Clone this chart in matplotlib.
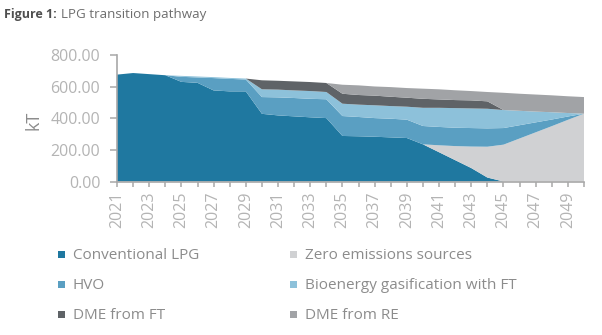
import matplotlib
matplotlib.use("Agg")
import matplotlib.pyplot as plt
from matplotlib.patches import Rectangle

# LPG supply by source, kT per year
years = list(range(2021, 2051))
conventional_lpg = [676, 686, 679, 672, 630, 624, 576, 570, 570, 428,
                    418, 412, 406, 401, 288, 286, 283, 279, 275, 235,
                    185, 135, 85, 25, 0, 0, 0, 0, 0, 0]
zero_emissions = [0, 0, 0, 0, 0, 0, 0, 0, 0, 0,
                  0, 0, 0, 0, 0, 0, 0, 0, 0, 0,
                  44, 89, 136, 195, 233, 272, 311, 350, 390, 429]
hvo = [0, 0, 0, 0, 32, 34, 78, 79, 75, 106,
       114, 116, 117, 119, 126, 122, 118, 118, 116, 116,
       116, 116, 117, 116, 105, 84, 63, 42, 21, 0]
bio_gasification_ft = [0, 0, 0, 0, 6, 6, 6, 6, 6, 49,
                       49, 48, 49, 46, 78, 78, 81, 80, 82, 115,
                       121, 124, 124, 124, 114, 91, 68, 46, 22, 0]
dme_from_ft = [0, 0, 0, 0, 0, 0, 0, 0, 0, 57,
               56, 57, 57, 57, 63, 61, 61, 59, 57, 57,
               53, 51, 51, 47, 0, 0, 0, 0, 0, 0]
dme_from_re = [0, 0, 0, 0, 0, 0, 0, 0, 0, 0,
               0, 0, 0, 0, 57, 61, 58, 61, 61, 64,
               64, 62, 59, 59, 109, 108, 108, 107, 106, 105]

series_labels = ["Conventional LPG", "Zero emissions sources", "HVO",
                 "Bioenergy gasification with FT", "DME from FT", "DME from RE"]
series_colors = ["#1f78a0", "#d0d1d3", "#5a9fc2", "#8dc1da", "#5f6367", "#a1a3a6"]
y_ticks = [0, 200, 400, 600, 800]

FONT = "Open Sans"
TICK_COLOR = "#b4b4b4"
TEXT_COLOR = "#8c8c8c"
SPINE_COLOR = "#a8a8a8"

W, H = 602, 335
fig = plt.figure(figsize=(W / 100, H / 100), dpi=100)
fig.patch.set_facecolor("white")

def fx(px):
    return px / W

def fy(py):
    return 1 - py / H

ax = fig.add_axes([fx(117), fy(181.5), fx(584) - fx(117), fy(55) - fy(181.5)])

ax.stackplot(years, conventional_lpg, zero_emissions, hvo, bio_gasification_ft,
             dme_from_ft, dme_from_re, colors=series_colors, linewidth=0)

ax.set_xlim(years[0], years[-1])
ax.set_ylim(y_ticks[0], y_ticks[-1])
ax.set_yticks(y_ticks)
ax.set_yticklabels([f"{v:.2f}" for v in y_ticks])
ax.set_xticks(years[::2])
ax.set_xticklabels([str(y) for y in years[::2]], rotation=90)
ax.set_xticks(years, minor=True)

for s in ("top", "right"):
    ax.spines[s].set_visible(False)
for s in ("left", "bottom"):
    ax.spines[s].set_color(SPINE_COLOR)
    ax.spines[s].set_linewidth(1.2)

ax.tick_params(axis="y", which="both", length=5, width=1.1, color=SPINE_COLOR,
               pad=7, labelsize=11.5, labelcolor=TICK_COLOR)
ax.tick_params(axis="x", which="both", length=3.5, width=1.1, color=SPINE_COLOR,
               pad=4, labelsize=11.5, labelcolor=TICK_COLOR)
for lab in ax.get_xticklabels() + ax.get_yticklabels():
    lab.set_fontfamily(FONT)

fig.text(fx(33), fy(120), "kT", rotation=90, ha="center", va="center",
         fontsize=13, color=TEXT_COLOR, family=FONT)

# Title: bold prefix followed by regular text
t1 = fig.text(fx(4), fy(18), "Figure 1:", fontsize=9, fontweight="bold",
              color="#4f4f4f", family=FONT, va="baseline", ha="left")
fig.canvas.draw()
bb = t1.get_window_extent()
fig.text(fx(bb.x1 + 4), fy(18), "LPG transition pathway", fontsize=9.6,
         color="#6e6e6e", family=FONT, va="baseline", ha="left")

# Legend: two columns, three rows
col_x = [58, 290]
row_y = [254, 284, 314]
order = [(0, 0, 0), (1, 1, 0), (2, 0, 1), (3, 1, 1), (4, 0, 2), (5, 1, 2)]
for idx, c, r in order:
    sq = 7
    fig.patches.append(Rectangle((fx(col_x[c]), fy(row_y[r] + sq / 2)),
                                 sq / W, sq / H, transform=fig.transFigure,
                                 facecolor=series_colors[idx], edgecolor="none"))
    fig.text(fx(col_x[c] + 15), fy(row_y[r] + 5.3), series_labels[idx],
             fontsize=11, color=TEXT_COLOR, family=FONT,
             va="baseline", ha="left")

fig.savefig("out.png", dpi=100)
